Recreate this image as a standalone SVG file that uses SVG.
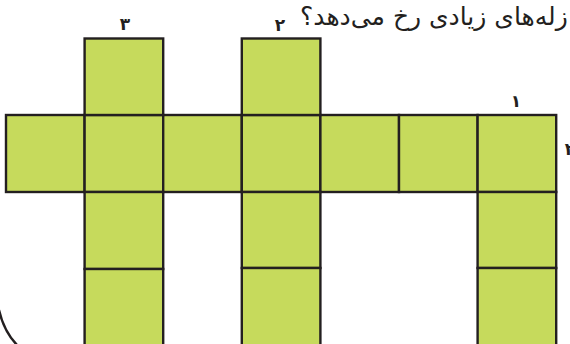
<svg xmlns="http://www.w3.org/2000/svg" width="570" height="344" viewBox="0 0 570 344">
<style>
.c{fill:#c6da5c;stroke:#231f20;stroke-width:2.4}
.n{font-family:"DejaVu Sans","Noto Sans",sans-serif;font-size:17px;font-weight:bold;fill:#231f20;text-anchor:middle}
.t{font-family:"DejaVu Sans","Noto Sans",sans-serif;font-size:25px;fill:#231f20}
</style>
<rect width="570" height="344" fill="#fff"/>
<text class="t" x="300" y="25" direction="rtl" text-anchor="end">زله‌های زیادی رخ می‌دهد؟</text>
<text class="n" x="280" y="31">۲</text>
<text class="n" x="125" y="30">۳</text>
<text class="n" x="516" y="107">۱</text>
<text class="n" x="570" y="155">۲</text>
<path d="M -1 310 Q 4 332 18 346" fill="none" stroke="#231f20" stroke-width="2.4"/>
<g id="row">
<rect id="c1" class="c" x="6" y="115" width="78.6" height="77"/>
<rect id="c2" class="c" x="84.6" y="115" width="78.6" height="77"/>
<rect id="c3" class="c" x="163.2" y="115" width="78.6" height="77"/>
<rect id="c4" class="c" x="241.8" y="115" width="78.6" height="77"/>
<rect id="c5" class="c" x="320.4" y="115" width="78.6" height="77"/>
<rect id="c6" class="c" x="399" y="115" width="78.6" height="77"/>
<rect id="c7" class="c" x="477.6" y="115" width="78.6" height="77"/>
</g>
<g id="col3">
<rect class="c" x="84.6" y="38.5" width="78.6" height="76.5"/>
<rect class="c" x="84.6" y="192" width="78.6" height="77"/>
<rect class="c" x="84.6" y="269" width="78.6" height="77"/>
</g>
<g id="col2">
<rect class="c" x="241.8" y="38.5" width="78.6" height="76.5"/>
<rect class="c" x="241.8" y="192" width="78.6" height="76"/>
<rect class="c" x="241.8" y="268" width="78.6" height="78"/>
</g>
<g id="col1">
<rect class="c" x="477.6" y="192" width="78.6" height="76"/>
<rect class="c" x="477.6" y="268" width="78.6" height="78"/>
</g>
</svg>
